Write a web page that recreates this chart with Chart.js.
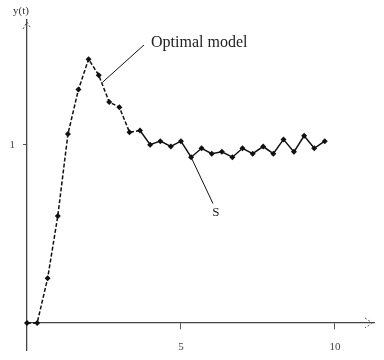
<!DOCTYPE html>
<html>
<head>
<meta charset="utf-8">
<script src="https://cdn.jsdelivr.net/npm/chart.js@4.4.1/dist/chart.umd.min.js"></script>
<style>
  html, body { margin: 0; padding: 0; background: #fff; }
  #wrap { width: 384px; height: 360px; }
</style>
</head>
<body>
<div id="wrap"><canvas id="response-chart" width="384" height="360"></canvas></div>
<script>
// step response
const timeValues = [0, 0.33, 0.67, 1, 1.33, 1.67, 2, 2.33, 2.67, 3, 3.33, 3.67, 4, 4.33, 4.67,
    5, 5.33, 5.67, 6, 6.33, 6.67, 7, 7.33, 7.67, 8, 8.33, 8.67, 9, 9.33, 9.67];
const responseValues = [0, 0, 0.25, 0.60, 1.06, 1.31, 1.48, 1.39, 1.24, 1.21, 1.07, 1.08, 1.00, 1.02, 0.99,
    1.02, 0.93, 0.98, 0.95, 0.96, 0.93, 0.98, 0.95, 0.99, 0.95, 1.03, 0.96, 1.05, 0.98, 1.02];
const xTicks = [5, 10];
const xTickLabels = ['5', '10'];
const yTicks = [1];
const yTickLabels = ['1'];
const yAxisTitle = 'y(t)';
// callouts: text, point on curve, label anchor (data units)
const callouts = [
    { text: 'Optimal model', from: [2.45, 1.35], to: [3.8, 1.56], below: false },
    { text: 'S', from: [5.33, 0.93], to: [6.04, 0.67], below: true },
];

const axisExtras = {
    id: 'axisExtras',
    afterDraw(chart) {
        const { ctx, scales: { x, y } } = chart;
        const x0 = x.getPixelForValue(0);
        const y0 = y.getPixelForValue(0);
        ctx.save();
        ctx.strokeStyle = '#555';
        ctx.lineWidth = 1;
        ctx.setLineDash([2, 2]);
        // arrow at right end of the time axis
        const xe = chart.chartArea.right - 2;
        ctx.beginPath();
        ctx.moveTo(xe - 7, y0 - 5);
        ctx.lineTo(xe, y0);
        ctx.lineTo(xe - 7, y0 + 5);
        ctx.stroke();
        // arrow at top of the y axis
        const yt = chart.chartArea.top + 2;
        ctx.beginPath();
        ctx.moveTo(x0 - 4, yt + 7);
        ctx.lineTo(x0, yt);
        ctx.lineTo(x0 + 4, yt + 7);
        ctx.stroke();
        ctx.setLineDash([]);

        ctx.fillStyle = '#333';
        ctx.font = '11px "Liberation Serif"';
        ctx.textAlign = 'center';
        ctx.fillText(yAxisTitle, x0 - 6, chart.chartArea.top - 6);

        ctx.strokeStyle = '#111';
        ctx.fillStyle = '#222';
        ctx.textBaseline = 'middle';
        for (const c of callouts) {
            const fx = x.getPixelForValue(c.from[0]), fy = y.getPixelForValue(c.from[1]);
            const tx = x.getPixelForValue(c.to[0]), ty = y.getPixelForValue(c.to[1]);
            ctx.beginPath();
            ctx.moveTo(fx, fy);
            ctx.lineTo(tx, ty);
            ctx.stroke();
            if (c.below) {
                ctx.font = '13px "Liberation Serif"';
                ctx.textAlign = 'center';
                ctx.fillText(c.text, tx + 3, ty + 9);
            } else {
                ctx.font = '16px "Liberation Serif"';
                ctx.textAlign = 'left';
                ctx.fillText(c.text, tx + 7, ty - 2);
            }
        }
        ctx.restore();
    }
};

const createResponseChart = () => {
    let ctx = document.getElementById('response-chart');
    let points = timeValues.map((t, i) => ({ x: t, y: responseValues[i] }));

    new Chart(ctx, {
        type: 'line',
        data: {
            datasets: [{
                label: 'response',
                data: points,
                borderColor: '#111',
                backgroundColor: '#111',
                borderWidth: 1.5,
                pointStyle: 'rectRot',
                pointRadius: 3,
                pointBorderWidth: 0,
                tension: 0,
                fill: false,
                clip: false,
                segment: {
                    borderDash: seg => seg.p0.parsed.x < 3.5 ? [4, 2] : undefined,
                },
            }]
        },
        options: {
            responsive: false,
            animation: false,
            layout: { padding: { left: 10, right: 10, top: 20, bottom: 10 } },
            plugins: {
                legend: { display: false },
                tooltip: { enabled: false },
            },
            scales: {
                x: {
                    type: 'linear',
                    position: { y: 0 },
                    min: 0,
                    max: 11.27,
                    afterFit: s => { s.height = 0; s.paddingLeft = 0; s.paddingRight = 0; },
                    afterBuildTicks: s => { s.ticks = xTicks.map(v => ({ value: v })); },
                    grid: { display: true, drawOnChartArea: false, drawTicks: true, tickLength: 6, color: '#555' },
                    border: { display: true, color: '#444', width: 1.3, dash: [2, 2] },
                    ticks: {
                        color: '#444',
                        padding: 12,
                        font: { size: 11, family: 'Liberation Serif' },
                        callback: (v) => xTickLabels[xTicks.indexOf(v)],
                    }
                },
                y: {
                    type: 'linear',
                    position: 'left',
                    min: -0.152,
                    max: 1.70,
                    afterFit: s => { s.width = 17; s.paddingTop = 0; s.paddingBottom = 0; },
                    afterBuildTicks: s => { s.ticks = yTicks.map(v => ({ value: v })); },
                    grid: { display: true, drawOnChartArea: false, drawTicks: true, tickLength: 4, color: '#555' },
                    border: { display: true, color: '#444', width: 1.3, dash: [2, 2] },
                    ticks: {
                        color: '#444',
                        padding: 8,
                        font: { size: 11, family: 'Liberation Serif' },
                        callback: (v) => yTickLabels[yTicks.indexOf(v)],
                    }
                },
            },
        },
        plugins: [axisExtras]
    });
};

document.addEventListener('DOMContentLoaded', () => {
    createResponseChart();
});
</script>
</body>
</html>
